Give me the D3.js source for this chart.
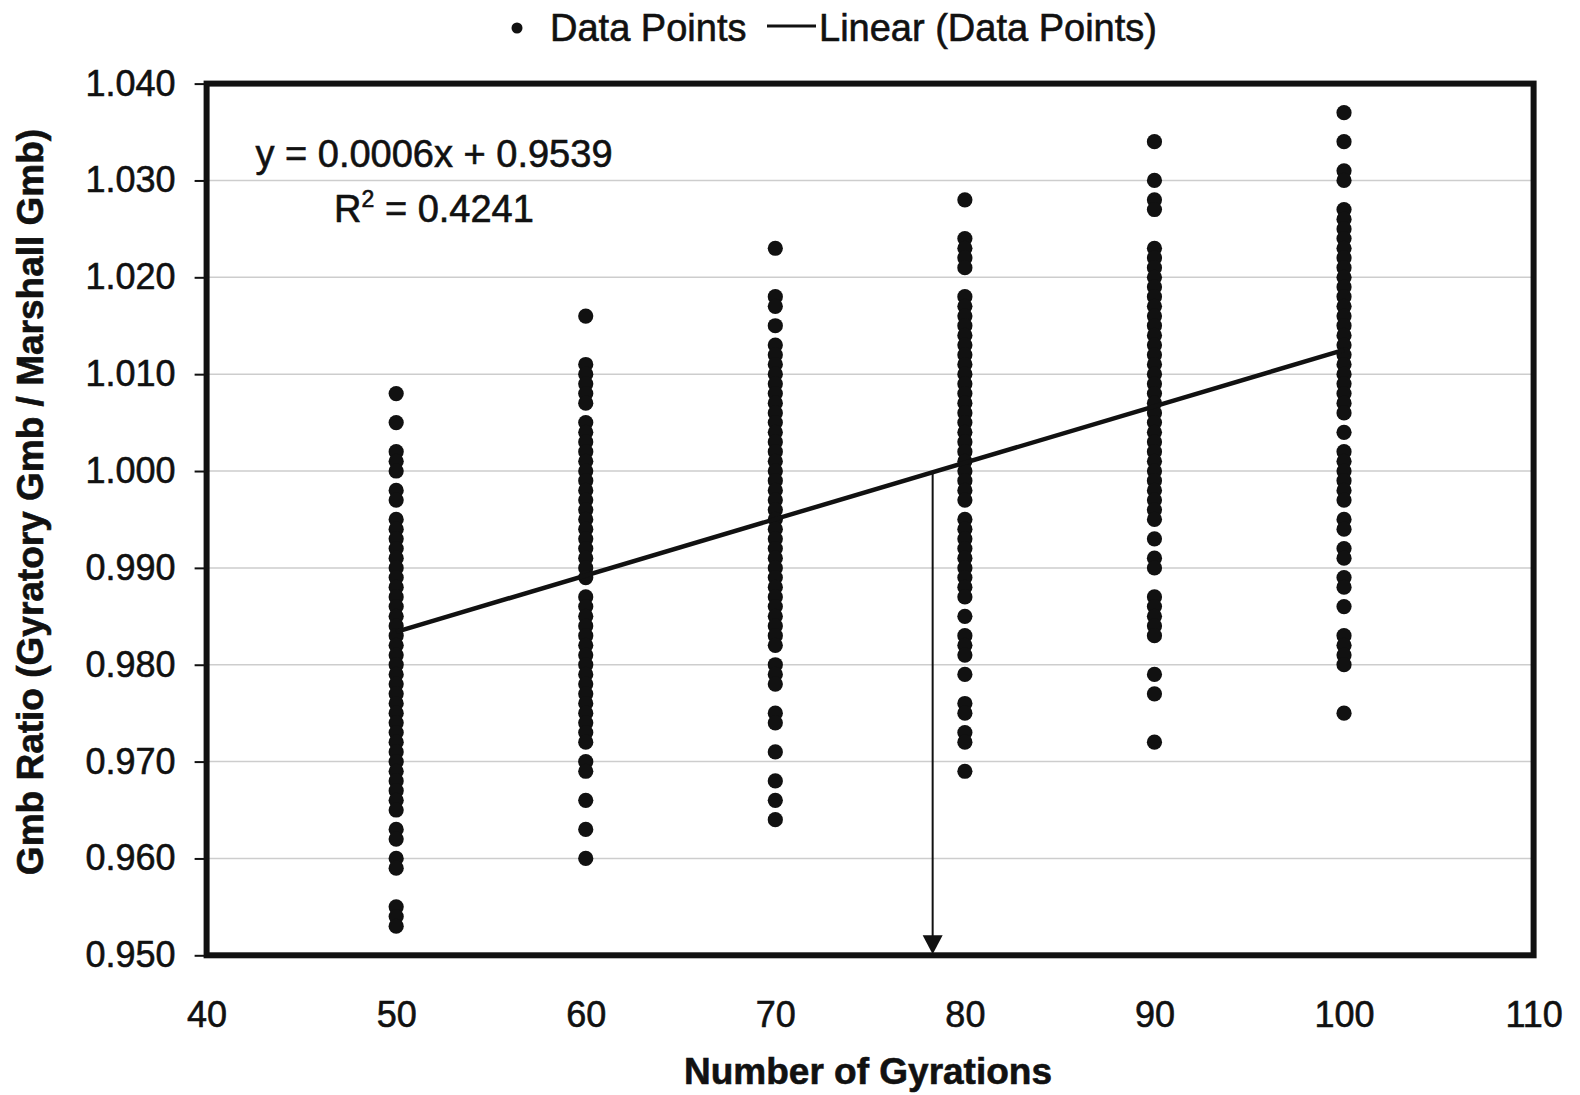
<!DOCTYPE html>
<html>
<head>
<meta charset="utf-8">
<script src="https://cdn.jsdelivr.net/npm/d3@7"></script>
<style>
  body { margin: 0; background: #fff; }
  text { font-family: "Liberation Sans", Arial, sans-serif; fill: #111; stroke: #111; stroke-width: 0.6px; }
</style>
</head>
<body>
<div id="canva"></div>
<script>
// gyration levels and the Gmb ratios
var gyrations = [50, 60, 70, 80, 90, 100];

var ratio50 = [1.008, 1.005, 1.002, 1.001, 1.000, 0.998, 0.997, 0.995, 0.994, 0.993, 0.992, 0.991, 0.990, 0.989, 0.988, 0.987,
  0.986, 0.985, 0.984, 0.983, 0.982, 0.981, 0.980, 0.979, 0.978, 0.977, 0.976, 0.975, 0.974, 0.973, 0.972, 0.971, 0.970,
  0.969, 0.968, 0.967, 0.966, 0.965, 0.963, 0.962, 0.960, 0.959, 0.955, 0.954, 0.953];
var ratio60 = [1.016, 1.011, 1.010, 1.009, 1.008, 1.007, 1.005, 1.004, 1.003, 1.002, 1.001, 1.000, 0.999, 0.998, 0.997, 0.996,
  0.995, 0.994, 0.993, 0.992, 0.991, 0.990, 0.989, 0.987, 0.986, 0.985, 0.984, 0.983, 0.982, 0.981, 0.980, 0.979, 0.978,
  0.977, 0.976, 0.975, 0.974, 0.973, 0.972, 0.970, 0.969, 0.966, 0.963, 0.960];
var ratio70 = [1.023, 1.018, 1.017, 1.015, 1.013, 1.012, 1.011, 1.010, 1.009, 1.008, 1.007, 1.006, 1.005, 1.004, 1.003, 1.002,
  1.001, 1.000, 0.999, 0.998, 0.997, 0.996, 0.995, 0.994, 0.993, 0.992, 0.991, 0.990, 0.989, 0.988, 0.987, 0.986, 0.985,
  0.984, 0.983, 0.982, 0.980, 0.979, 0.978, 0.975, 0.974, 0.971, 0.968, 0.966, 0.964];
var ratio80 = [1.028, 1.024, 1.023, 1.022, 1.021, 1.018, 1.017, 1.016, 1.015, 1.014, 1.013, 1.012, 1.011, 1.010, 1.009, 1.008,
  1.007, 1.006, 1.005, 1.004, 1.003, 1.002, 1.001, 1.000, 0.999, 0.998, 0.997, 0.995, 0.994, 0.993, 0.992, 0.991, 0.990,
  0.989, 0.988, 0.987, 0.985, 0.983, 0.982, 0.981, 0.979, 0.976, 0.975, 0.973, 0.972, 0.969];
var ratio90 = [1.034, 1.030, 1.028, 1.027, 1.023, 1.022, 1.021, 1.020, 1.019, 1.018, 1.017, 1.016, 1.015, 1.014, 1.013, 1.012,
  1.011, 1.010, 1.009, 1.008, 1.007, 1.006, 1.005, 1.004, 1.003, 1.002, 1.001, 1.000, 0.999, 0.998, 0.997, 0.996, 0.995,
  0.993, 0.991, 0.990, 0.987, 0.986, 0.985, 0.984, 0.983, 0.979, 0.977, 0.972];
var ratio100 = [1.037, 1.034, 1.031, 1.030, 1.027, 1.026, 1.025, 1.024, 1.023, 1.022, 1.021, 1.020, 1.019, 1.018, 1.017, 1.016,
  1.015, 1.014, 1.013, 1.012, 1.011, 1.010, 1.009, 1.008, 1.007, 1.006, 1.004, 1.002, 1.001, 1.000, 0.999, 0.998, 0.997,
  0.995, 0.994, 0.992, 0.991, 0.989, 0.988, 0.986, 0.983, 0.982, 0.981, 0.980, 0.975];
var ratios = [ratio50, ratio60, ratio70, ratio80, ratio90, ratio100];

// trend line ends as drawn, and where the arrow drops from it
var trendX = [50, 100];
var trendY = [0.9834, 1.0125];
var arrowX = 78.3;
var arrowY = [1.000, 0.950];

var xTicks = [40, 50, 60, 70, 80, 90, 100, 110];
var yTicks = [0.950, 0.960, 0.970, 0.980, 0.990, 1.000, 1.010, 1.020, 1.030, 1.040];

var equation = "y = 0.0006x + 0.9539";
var rSquared = "0.4241";

var width = 1580, height = 1095;
var box = {left: 206.6, right: 1533.6, top: 83.6, bottom: 955.3};

var svg = d3.select("#canva")
  .append("svg")
  .attr("width", width)
  .attr("height", height);

var x = d3.scaleLinear().domain([40, 110]).range([box.left, box.right]);
var y = d3.scaleLinear().domain([0.950, 1.040]).range([box.bottom, box.top]);

// faint gridlines (the scan only kept pieces of them)
svg.selectAll(".grid")
  .data(yTicks.slice(1, -1))
  .enter()
  .append("line")
  .attr("class", "grid")
  .attr("x1", box.left)
  .attr("x2", box.right)
  .attr("y1", d => y(d))
  .attr("y2", d => y(d))
  .attr("stroke", "#cdcdcd")
  .attr("stroke-width", 1.5);

// points
var points = [];
gyrations.forEach(function(g, i) {
  ratios[i].forEach(function(r) { points.push([g, r]); });
});

svg.selectAll(".dot")
  .data(points)
  .enter()
  .append("circle")
  .attr("class", "dot")
  .attr("cx", d => x(d[0]))
  .attr("cy", d => y(d[1]))
  .attr("r", 7.6)
  .attr("fill", "#111");

// trend line
svg.append("path")
  .datum(trendX.map((d, i) => [d, trendY[i]]))
  .attr("d", d3.line().x(d => x(d[0])).y(d => y(d[1])))
  .attr("stroke", "#111")
  .attr("stroke-width", 4.5)
  .attr("fill", "none");

// arrow down to the axis
var ax = x(arrowX);
svg.append("line")
  .attr("x1", ax).attr("x2", ax)
  .attr("y1", y(arrowY[0])).attr("y2", y(arrowY[1]) - 16)
  .attr("stroke", "#111")
  .attr("stroke-width", 2);
svg.append("path")
  .attr("d", "M" + (ax - 10) + "," + (y(arrowY[1]) - 20) + "L" + (ax + 10) + "," + (y(arrowY[1]) - 20) + "L" + ax + "," + (y(arrowY[1]) - 1) + "Z")
  .attr("fill", "#111");

// frame
svg.append("rect")
  .attr("x", box.left)
  .attr("y", box.top)
  .attr("width", box.right - box.left)
  .attr("height", box.bottom - box.top)
  .attr("fill", "none")
  .attr("stroke", "#111")
  .attr("stroke-width", 6);

// axes
var yAxis = svg.append("g")
  .attr("transform", "translate(" + box.left + ",0)")
  .call(d3.axisLeft(y).tickValues(yTicks).tickFormat(d3.format(".3f")).tickSize(12).tickPadding(19));

var xAxis = svg.append("g")
  .attr("transform", "translate(0," + box.bottom + ")")
  .call(d3.axisBottom(x).tickValues(xTicks).tickFormat(d3.format("d")).tickSize(0).tickPadding(46));

[yAxis, xAxis].forEach(function(a) {
  a.select(".domain").remove();
  a.selectAll("line").attr("stroke", "#111").attr("stroke-width", 2);
  a.selectAll("text")
    .style("font-family", "'Liberation Sans', Arial, sans-serif")
    .style("font-size", "36px")
    .attr("fill", "#111")
    .attr("stroke", "#111")
    .attr("stroke-width", 0.6);
});

// axis titles
svg.append("text")
  .attr("x", 868)
  .attr("y", 1084)
  .attr("text-anchor", "middle")
  .style("font-size", "37px")
  .style("font-weight", "bold")
  .text("Number of Gyrations");

svg.append("text")
  .attr("transform", "translate(43,502) rotate(-90)")
  .attr("text-anchor", "middle")
  .style("font-size", "37px")
  .style("font-weight", "bold")
  .text("Gmb Ratio (Gyratory Gmb / Marshall Gmb)");

// trend equation
svg.append("text")
  .attr("x", 434)
  .attr("y", 167)
  .attr("text-anchor", "middle")
  .style("font-size", "38px")
  .text(equation);

var r2 = svg.append("text")
  .attr("x", 434)
  .attr("y", 222)
  .attr("text-anchor", "middle")
  .style("font-size", "38px");
r2.append("tspan").text("R");
r2.append("tspan").attr("dy", -15).style("font-size", "23px").text("2");
r2.append("tspan").attr("dy", 15).text(" = " + rSquared);

// legend
var legend = svg.append("g");
legend.append("circle").attr("cx", 517).attr("cy", 28).attr("r", 5.5).attr("fill", "#111");
legend.append("text").attr("x", 550).attr("y", 41).style("font-size", "38px").text("Data Points");
legend.append("line").attr("x1", 767).attr("x2", 816).attr("y1", 26).attr("y2", 26)
  .attr("stroke", "#111").attr("stroke-width", 3);
legend.append("text").attr("x", 819).attr("y", 41).style("font-size", "38px").text("Linear (Data Points)");
</script>
</body>
</html>
